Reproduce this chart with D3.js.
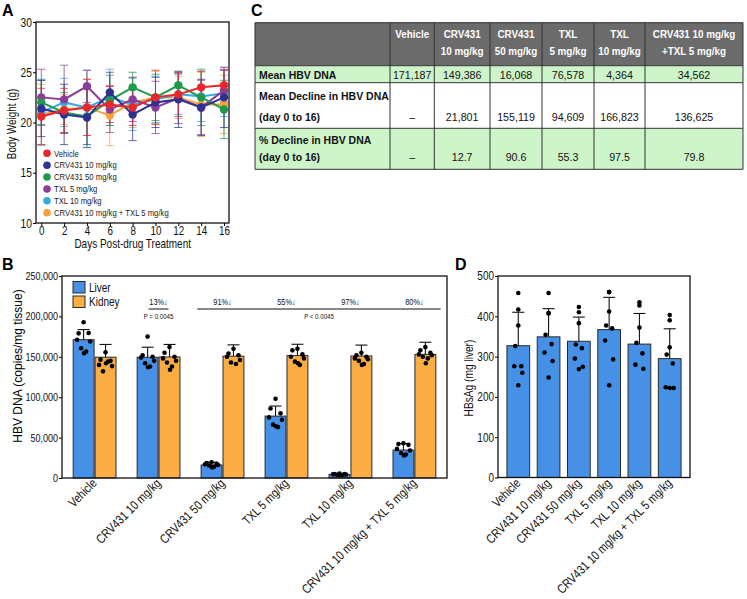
<!DOCTYPE html>
<html><head><meta charset="utf-8">
<script src="https://cdn.jsdelivr.net/npm/d3@7"></script>
<style>body{margin:0;background:#fff}svg{display:block}</style></head>
<body><svg id="c" width="747" height="599"></svg>
<script>
const FONT = "'Liberation Sans',Arial,Helvetica,sans-serif";
const SX = 0.82; // horizontal condensing of the figure's condensed type

// ---------- Panel A data ----------
const days = [0, 2, 4, 6, 8, 10, 12, 14, 16];
const seriesNames = ['Vehicle', 'CRV431 10 mg/kg', 'CRV431 50 mg/kg', 'TXL 5 mg/kg', 'TXL 10 mg/kg', 'CRV431 10 mg/kg + TXL 5 mg/kg'];
const seriesColors = ['#e8262b', '#2e3192', '#1f9a4a', '#8b3d98', '#3aa9de', '#f7a23b'];
const weightVehicle = [20.6, 21.2, 21.5, 21.8, 21.5, 22.5, 22.8, 23.5, 23.7];
const weightCrv10   = [21.4, 20.8, 20.5, 23.0, 20.8, 22.0, 22.3, 21.5, 22.5];
const weightCrv50   = [22.0, 21.0, 20.6, 22.2, 23.5, 22.5, 23.7, 22.5, 21.3];
const weightTxl5    = [22.5, 22.3, 23.6, 21.3, 22.3, 21.5, 22.4, 21.5, 23.2];
const weightTxl10   = [21.0, 22.0, 21.5, 22.5, 21.8, 22.3, 22.8, 22.6, 22.9];
const weightCombo   = [20.8, 21.3, 21.5, 20.7, 22.0, 22.5, 22.5, 21.8, 21.8];
const sdVehicle = [2.8, 2.2, 2.8, 1.8, 1.8, 2.7, 2.2, 1.6, 1.6];
const sdCrv10   = [2.8, 3.0, 3.0, 2.0, 2.6, 2.5, 2.8, 2.8, 3.0];
const sdCrv50   = [2.2, 2.0, 2.8, 2.5, 1.5, 2.3, 1.3, 2.8, 2.9];
const sdTxl5    = [2.8, 3.4, 1.6, 2.3, 2.2, 2.6, 2.5, 2.7, 2.0];
const sdTxl10   = [3.3, 2.4, 3.7, 2.8, 2.6, 2.3, 2.0, 2.5, 2.3];
const sdCombo   = [3.0, 1.5, 2.8, 3.0, 2.5, 2.6, 2.1, 3.2, 2.9];
const weightTicks = [10, 15, 20, 25, 30];

// ---------- Panel B data ----------
const groups = ['Vehicle', 'CRV431 10 mg/kg', 'CRV431 50 mg/kg', 'TXL 5 mg/kg', 'TXL 10 mg/kg', 'CRV431 10 mg/kg + TXL 5 mg/kg'];
const tissues = ['Liver', 'Kidney'];
const tissueColors = ['#4690e6', '#f9ad42'];
const liverMean = [171187, 149386, 16068, 76578, 4364, 34562];
const liverSD = [12500, 12500, 3500, 12500, 1200, 8000];
const kidneyMean = [149500, 149800, 150800, 151500, 151000, 153000];
const kidneySD = [15800, 15500, 14000, 14000, 13500, 15000];
const liverPoints = [
  [192800, 179000, 179500, 171000, 169000, 160500, 156500, 154500],
  [175000, 152000, 150000, 149000, 145000, 142000, 138000, 137000],
  [19500, 18500, 17500, 17000, 16000, 15500, 14000, 13000],
  [98000, 86000, 80000, 75000, 72000, 66000, 63000, 64000],
  [5500, 5000, 4800, 4500, 4200, 4000, 3500, 3300],
  [43000, 42000, 41000, 36000, 34000, 31000, 29000, 28000]
];
const kidneyPoints = [
  [155500, 146500, 145000, 140000, 138500, 132000, 144000, 142000],
  [162000, 155000, 150000, 148000, 145000, 143000, 138000, 134000],
  [160000, 154000, 152000, 150000, 146000, 143000, 141000],
  [160000, 158000, 153000, 150000, 148000, 144000, 140000, 142000],
  [155000, 152000, 150000, 148000, 147000, 145000, 141000, 140000],
  [162000, 158000, 155000, 153000, 152000, 150000, 148000, 142000]
];
const hbvTicks = [0, 50000, 100000, 150000, 200000, 250000];
const declineLabels = ['', '13%\u2193', '91%\u2193', '55%\u2193', '97%\u2193', '80%\u2193'];
const pLabels = ['P = 0.0045', 'P < 0.0045'];

// ---------- Panel C data ----------
const headLine1 = ['Vehicle', 'CRV431', 'CRV431', 'TXL', 'TXL', 'CRV431 10 mg/kg'];
const headLine2 = ['', '10 mg/kg', '50 mg/kg', '5 mg/kg', '10 mg/kg', '+TXL 5 mg/kg'];
const rowLabels = [['Mean HBV DNA'], ['Mean Decline in HBV DNA', '(day 0 to 16)'], ['% Decline in HBV DNA', '(day 0 to 16)']];
const meanHBV = [171187, 149386, 16068, 76578, 4364, 34562];
const meanDecline = [null, 21801, 155119, 94609, 166823, 136625];
const pctDecline = [null, 12.7, 90.6, 55.3, 97.5, 79.8];

// ---------- Panel D data ----------
const hbsMean = [327, 349, 338, 367, 331, 295];
const hbsSD = [83, 70, 60, 80, 76, 74];
const hbsPoints = [
  [458, 417, 377, 326, 276, 276, 260, 229],
  [458, 408, 407, 354, 331, 310, 289, 248],
  [423, 410, 383, 330, 321, 295, 275, 269],
  [460, 460, 412, 377, 370, 340, 293, 229],
  [435, 427, 372, 334, 308, 280, 270],
  [403, 390, 323, 305, 283, 224, 222, 222]
];
const hbsTicks = [0, 100, 200, 300, 400, 500];

const svg = d3.select('#c');

// condensed text helper: real text, horizontally scaled
function ntext(parent, x, y, txt, size, opt = {}) {
  const rot = opt.rotate ? ` rotate(${opt.rotate})` : '';
  const sx = opt.sx || SX;
  return parent.append('text').attr('transform', `translate(${x},${y})${rot} scale(${sx},1)`)
    .attr('font-family', FONT).attr('font-size', size).attr('fill', opt.fill || '#111')
    .attr('text-anchor', opt.anchor || 'start').attr('font-weight', opt.weight || 'normal').text(txt);
}
function styleAxis(g, size) {
  g.select('path').remove();
  g.selectAll('line').attr('stroke', '#000').attr('stroke-width', 1);
  g.selectAll('text').attr('font-family', FONT).attr('font-size', size).attr('fill', '#111')
    .each(function () {
      const t = d3.select(this), x = +t.attr('x') || 0;
      t.attr('x', x / SX).attr('transform', `scale(${SX},1)`);
    });
}
function letter(t, x, y) {
  svg.append('text').attr('x', x).attr('y', y).text(t)
    .attr('font-family', FONT).attr('font-weight', 'bold').attr('font-size', 16);
}

// ================= Panel A =================
letter('A', 2, 16);
const xA = d3.scaleLinear().domain([0, 16]).range([41.3, 224]);
const yA = d3.scaleLinear().domain([10, 30]).range([223, 22]);
const gA = svg.append('g');
const seriesW = [weightVehicle, weightCrv10, weightCrv50, weightTxl5, weightTxl10, weightCombo];
const seriesSD = [sdVehicle, sdCrv10, sdCrv50, sdTxl5, sdTxl10, sdCombo];
const drawOrder = [5, 4, 3, 2, 1, 0];
drawOrder.forEach(s => {
  const c = seriesColors[s];
  days.forEach((d, i) => {
    const x = xA(d), lo = yA(seriesW[s][i] - seriesSD[s][i]), hi = yA(seriesW[s][i] + seriesSD[s][i]);
    const eg = gA.append('g').attr('stroke', c).attr('stroke-width', 1).attr('opacity', 0.75);
    eg.append('line').attr('x1', x).attr('x2', x).attr('y1', lo).attr('y2', hi);
    eg.append('line').attr('x1', x - 4).attr('x2', x + 4).attr('y1', lo).attr('y2', lo);
    eg.append('line').attr('x1', x - 4).attr('x2', x + 4).attr('y1', hi).attr('y2', hi);
  });
});
const lineA = d3.line().x((d, i) => xA(days[i])).y(d => yA(d));
drawOrder.forEach(s => {
  gA.append('path').attr('d', lineA(seriesW[s])).attr('fill', 'none')
    .attr('stroke', seriesColors[s]).attr('stroke-width', 2);
  gA.selectAll(null).data(seriesW[s]).enter().append('circle')
    .attr('cx', (d, i) => xA(days[i])).attr('cy', d => yA(d)).attr('r', 4.2)
    .attr('fill', seriesColors[s]);
});
gA.append('rect').attr('x', 36).attr('y', 22).attr('width', 193).attr('height', 201)
  .attr('fill', 'none').attr('stroke', '#111').attr('stroke-width', 1.3);
const axYA = gA.append('g').attr('transform', 'translate(36,0)')
  .call(d3.axisLeft(yA).tickValues(weightTicks).tickSize(3).tickPadding(1));
styleAxis(axYA, 12.5);
const axXA = gA.append('g').attr('transform', 'translate(0,223)')
  .call(d3.axisBottom(xA).tickValues(days).tickSize(3).tickPadding(0));
styleAxis(axXA, 12);
ntext(gA, 15.5, 124, 'Body Weight (g)', 12, { rotate: -90, anchor: 'middle' });
ntext(gA, 132.7, 248, 'Days Post-drug Treatment', 12.2, { anchor: 'middle' });
seriesNames.forEach((d, i) => {
  const y = 153.3 + i * 11.88;
  gA.append('circle').attr('cx', 47).attr('cy', y).attr('r', 3.8).attr('fill', seriesColors[i]);
  ntext(gA, 54, y + 3.3, d, 9.4, { fill: '#222' });
});

// ================= Panel C (table) =================
letter('C', 251, 16);
const gC = svg.append('g');
const colX = [255, 390, 434.3, 490, 542, 594, 645, 743];
const rowY = [22.7, 65.7, 82.7, 128.3, 169.3];
const rowFill = ['#6b6b6b', '#cdf5c9', '#ffffff', '#cdf5c9'];
rowFill.forEach((f, r) => {
  gC.append('rect').attr('x', colX[0]).attr('y', rowY[r]).attr('width', colX[7] - colX[0])
    .attr('height', rowY[r + 1] - rowY[r]).attr('fill', f);
});
rowY.forEach(y => gC.append('line').attr('x1', colX[0]).attr('x2', colX[7]).attr('y1', y).attr('y2', y)
  .attr('stroke', '#333').attr('stroke-width', 1));
colX.forEach(x => gC.append('line').attr('x1', x).attr('x2', x).attr('y1', rowY[0]).attr('y2', rowY[4])
  .attr('stroke', '#333').attr('stroke-width', 1));
const colCenter = i => (colX[i + 1] + colX[i + 2]) / 2;
headLine1.forEach((t, i) => {
  ntext(gC, colCenter(i), 37.5, t, 11.2, { anchor: 'middle', weight: 'bold', fill: '#fff', sx: 0.88 });
  if (headLine2[i]) ntext(gC, colCenter(i), 54.5, headLine2[i], 11.2, { anchor: 'middle', weight: 'bold', fill: '#fff', sx: 0.88 });
});
const rowLabelBase = [[78.5], [100, 120.5], [144, 160.5]];
rowLabels.forEach((lines, r) => lines.forEach((t, k) => {
  ntext(gC, 259, rowLabelBase[r][k], t, 11.4, { weight: 'bold', sx: 0.92 });
}));
const fmtC = d3.format(','), fmtP = d3.format('.1f');
const rowVals = [meanHBV.map(fmtC), meanDecline.map(v => v == null ? '\u2013' : fmtC(v)), pctDecline.map(v => v == null ? '\u2013' : fmtP(v))];
const rowValBase = [78.5, 120.5, 160.5];
rowVals.forEach((vals, r) => vals.forEach((t, i) => {
  ntext(gC, colCenter(i), rowValBase[r], t, 11.6, { anchor: 'middle', sx: 0.92 });
}));

// ================= Panel B =================
letter('B', 2, 270);
const gB = svg.append('g');
const xB = d3.scaleBand().domain(groups).range([62, 447]).paddingInner(0.315).paddingOuter(0.167);
const xSub = d3.scaleBand().domain(tissues).range([0, xB.bandwidth()]);
const yB = d3.scaleLinear().domain([0, 250000]).range([478, 276]);
const jitter = [0, -5, 5, -6.5, 6.5, -2.5, 2.5, 0.5];
const tissueMean = [liverMean, kidneyMean], tissueSD = [liverSD, kidneySD], tissuePts = [liverPoints, kidneyPoints];
groups.forEach((g, i) => {
  tissues.forEach((t, k) => {
    const x0 = xB(g) + xSub(t), w = xSub.bandwidth(), cx = x0 + w / 2;
    const m = tissueMean[k][i], sd = tissueSD[k][i];
    gB.append('rect').attr('x', x0 + 0.5).attr('y', yB(m)).attr('width', w - 1).attr('height', yB(0) - yB(m))
      .attr('fill', tissueColors[k]).attr('stroke', '#2a2a2a').attr('stroke-width', 1);
    gB.append('line').attr('x1', cx).attr('x2', cx).attr('y1', yB(m)).attr('y2', yB(m + sd)).attr('stroke', '#111').attr('stroke-width', 1.1);
    gB.append('line').attr('x1', cx - 6).attr('x2', cx + 6).attr('y1', yB(m + sd)).attr('y2', yB(m + sd)).attr('stroke', '#111').attr('stroke-width', 1.1);
    gB.selectAll(null).data(tissuePts[k][i]).enter().append('circle')
      .attr('cx', (d, j) => cx + jitter[j]).attr('cy', d => yB(d)).attr('r', 2.3).attr('fill', '#000');
  });
});
gB.append('rect').attr('x', 62).attr('y', 276).attr('width', 385).attr('height', 202)
  .attr('fill', 'none').attr('stroke', '#111').attr('stroke-width', 1.3);
const axYB = gB.append('g').attr('transform', 'translate(62,0)')
  .call(d3.axisLeft(yB).tickValues(hbvTicks).tickFormat(d3.format(',')).tickSize(3).tickPadding(1));
styleAxis(axYB, 11);
gB.append('text').attr('transform', 'translate(21.5,366) rotate(-90)').attr('text-anchor', 'middle')
  .attr('font-family', FONT).attr('font-size', 12).text('HBV DNA (copies/mg tissue)');
groups.forEach(g => {
  ntext(gB, xB(g) + xB.bandwidth() / 2 + 3, 484, g, 12.8, { rotate: -45, anchor: 'end' });
});
tissues.forEach((t, k) => {
  gB.append('rect').attr('x', 73).attr('y', 281.5 + k * 14.5).attr('width', 12).attr('height', 11.5)
    .attr('fill', tissueColors[k]).attr('stroke', '#2a2a2a').attr('stroke-width', 1);
  ntext(gB, 89, 291.5 + k * 14.5, t, 12.2);
});
groups.forEach((g, i) => {
  if (!declineLabels[i]) return;
  ntext(gB, xB(g) + xB.bandwidth() / 2, 305, declineLabels[i], 9, { anchor: 'middle' });
});
const c1 = xB(groups[1]) + xB.bandwidth() / 2;
gB.append('line').attr('x1', c1 - 10).attr('x2', c1 + 10).attr('y1', 309).attr('y2', 309).attr('stroke', '#111').attr('stroke-width', 1);
ntext(gB, c1, 318.5, pLabels[0], 7.5, { anchor: 'middle' });
const l0 = xB(groups[2]) - 3.3, l1 = xB(groups[5]) + xB.bandwidth() + 4.4;
gB.append('line').attr('x1', l0).attr('x2', l1).attr('y1', 309).attr('y2', 309).attr('stroke', '#111').attr('stroke-width', 1);
ntext(gB, (l0 + l1) / 2, 318.5, pLabels[1], 7.5, { anchor: 'middle' });

// ================= Panel D =================
letter('D', 455, 270);
const gD = svg.append('g');
const xD = d3.scaleBand().domain(groups).range([498, 690]).paddingInner(0.25).paddingOuter(0.295);
const yD = d3.scaleLinear().domain([0, 500]).range([477.5, 276]);
const jitD = [0, 0, 0, -3, 3, -4, 4, 0];
groups.forEach((g, i) => {
  const x0 = xD(g), w = xD.bandwidth(), cx = x0 + w / 2, m = hbsMean[i], sd = hbsSD[i];
  gD.append('rect').attr('x', x0).attr('y', yD(m)).attr('width', w).attr('height', yD(0) - yD(m))
    .attr('fill', tissueColors[0]).attr('stroke', '#2a2a2a').attr('stroke-width', 1);
  gD.append('line').attr('x1', cx).attr('x2', cx).attr('y1', yD(m)).attr('y2', yD(m + sd)).attr('stroke', '#111').attr('stroke-width', 1.1);
  gD.append('line').attr('x1', cx - 6).attr('x2', cx + 6).attr('y1', yD(m + sd)).attr('y2', yD(m + sd)).attr('stroke', '#111').attr('stroke-width', 1.1);
  gD.selectAll(null).data(hbsPoints[i]).enter().append('circle')
    .attr('cx', (d, j) => cx + jitD[j]).attr('cy', d => yD(d)).attr('r', 2.3).attr('fill', '#000');
});
gD.append('rect').attr('x', 498).attr('y', 276).attr('width', 192).attr('height', 201.5)
  .attr('fill', 'none').attr('stroke', '#111').attr('stroke-width', 1.3);
const axYD = gD.append('g').attr('transform', 'translate(498,0)')
  .call(d3.axisLeft(yD).tickValues(hbsTicks).tickSize(3).tickPadding(1));
styleAxis(axYD, 12.2);
ntext(gD, 473, 378, 'HBsAg (mg liver)', 12.4, { rotate: -90, anchor: 'middle' });
groups.forEach(g => {
  ntext(gD, xD(g) + xD.bandwidth() / 2 + 3, 484, g, 12.8, { rotate: -45, anchor: 'end' });
});
</script></body></html>
